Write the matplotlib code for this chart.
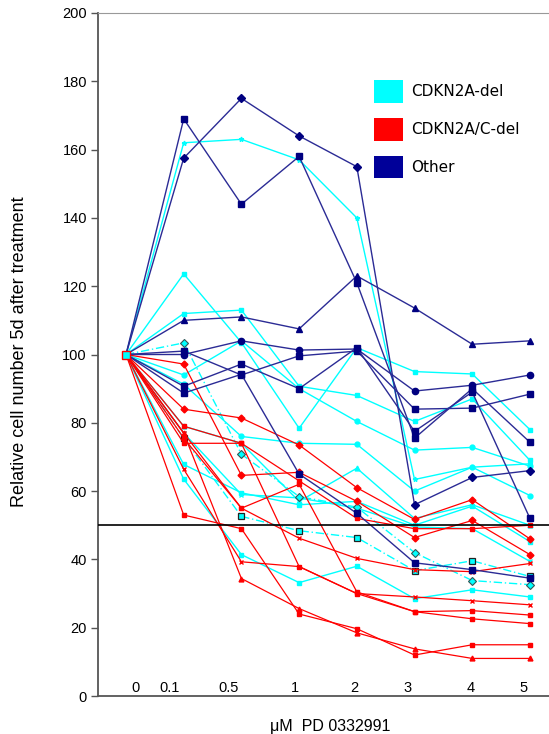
import matplotlib
matplotlib.use("Agg")
import matplotlib.pyplot as plt
from matplotlib.patches import Patch

# dose steps (plotted at equal spacing)
doses = ["0", "0.1", "0.5", "1", "2", "3", "4", "5"]
# where the tick labels sit (in dose-step units, the original labels are off-centre)
label_pos = [0.17, 0.76, 1.78, 2.93, 3.95, 4.87, 5.98, 6.88]

# CDKN2A-del (cyan)
cyan_a = [100, 162, 163, 157, 140, 63.4, 67, 68]
cyan_b = [100, 123.6, 103.5, 78.4, 102, 95, 94.3, 78]
cyan_c = [100, 112, 113, 90.7, 88, 80.4, 87, 69]
cyan_d = [100, 94, 104, 90, 80.4, 72, 72.8, 67.3]
cyan_e = [100, 91.3, 76, 74, 73.7, 60, 67, 58.7]
cyan_f = [100, 79, 74, 57, 66.7, 52, 56, 50]
cyan_g = [100, 67.8, 59.5, 56, 57, 50, 55.6, 45.2]
cyan_h = [100, 63.5, 41.4, 33.2, 38, 28.5, 31.1, 29]
cyan_i = [100, 77, 59, 58, 55, 49.5, 49, 39.4]
cyan_dd1 = [100, 103.4, 70.8, 58.4, 55.3, 42, 33.8, 32.6]
cyan_dd2 = [100, 75.5, 52.6, 48.4, 46.4, 36.7, 39.6, 35]

# CDKN2A/C-del (red)
red_a = [100, 84, 81.4, 73.5, 61, 51.7, 57.5, 46]
red_b = [100, 97.2, 64.6, 65.5, 57, 46.4, 51.4, 41.4]
red_c = [100, 74, 74, 63, 52, 49, 49, 50]
red_d = [100, 77, 55, 46.2, 40.3, 37, 36.4, 38.8]
red_e = [100, 66.4, 39.3, 37.9, 30, 29, 27.9, 26.7]
red_f = [100, 53, 49, 24, 19.7, 12, 15, 15]
red_g = [100, 77, 34.4, 25.6, 18.5, 13.8, 11, 11]
red_h = [100, 75.5, 55, 62, 30.5, 24.7, 22.6, 21.2]
red_i = [100, 79, 74, 37.9, 30, 24.7, 25, 23.7]

# Other (navy)
navy_a = [100, 169, 144, 158, 121, 75.5, 90, 74.3]
navy_b = [100, 157.5, 175, 164, 155, 56, 64, 66]
navy_c = [100, 110, 111, 107.5, 123, 113.6, 103, 104]
navy_d = [100, 100, 104, 101.3, 101.6, 89.3, 91, 94]
navy_e = [100, 101, 94, 99.6, 101, 84, 84.3, 88.4]
navy_f = [100, 90.7, 97.2, 90, 102, 77.5, 89, 52]
navy_g = [100, 88.7, 94.2, 65, 53.5, 39, 37, 34.5]

CYAN = "#00FFFF"
RED = "#FF0000"
NAVY = "#2b2b95"

fig = plt.figure(figsize=(5.49, 7.34), dpi=100)
ax = fig.add_axes([98 / 549, 1 - 696 / 734, 1 - 98 / 549, (696 - 13) / 734])
x = list(range(len(doses)))

cyan_series = [(cyan_a, "*"), (cyan_b, "s"), (cyan_c, "s"), (cyan_d, "o"),
               (cyan_e, "o"), (cyan_f, "^"), (cyan_g, "s"), (cyan_h, "s"),
               (cyan_i, "x")]
for ys, m in cyan_series:
    ax.plot(x, ys, color=CYAN, lw=1.0, marker=m, ms=3.5, mew=1, zorder=2)

# the two dash-dot cyan series with dark-edged markers
ax.plot(x, cyan_dd1, color=CYAN, lw=1.0, ls=(0, (6, 2, 1, 2)), marker="D",
        ms=4, mfc=CYAN, mec="#335555", mew=0.8, zorder=2)
ax.plot(x, cyan_dd2, color=CYAN, lw=1.0, ls=(0, (6, 2, 1, 2)), marker="s",
        ms=4.5, mfc=CYAN, mec="#222222", mew=0.9, zorder=2)

red_series = [(red_a, "D"), (red_b, "D"), (red_c, "s"), (red_d, "x"),
              (red_e, "x"), (red_f, "s"), (red_g, "^"), (red_h, "s"),
              (red_i, "s")]
for ys, m in red_series:
    ax.plot(x, ys, color=RED, lw=0.9, marker=m, ms=3.5, mew=1, zorder=3)

navy_series = [(navy_a, "s"), (navy_b, "D"), (navy_c, "^"), (navy_d, "o"),
               (navy_e, "s"), (navy_f, "s"), (navy_g, "s")]
for ys, m in navy_series:
    ax.plot(x, ys, color=NAVY, lw=1.0, marker=m, ms=4.5, mfc="#000080",
            mec="#000080", zorder=4)

# start point marker
ax.plot([0], [100], marker="s", ms=6, mfc=CYAN, mec=RED, mew=1, zorder=5)

# 50 % line
ax.axhline(50, color="black", lw=1.2, zorder=6)

ax.set_xlim(-0.485, 7.33)
ax.set_ylim(0, 200)
ax.set_yticks(range(0, 201, 20))
ax.set_xticks(label_pos)
ax.set_xticklabels(doses)
ax.tick_params(axis="x", length=0, pad=-11, labelsize=10.5)
ax.tick_params(axis="y", length=5, width=1, color="#555555", labelsize=10.5, pad=3)
for lab in ax.get_xticklabels() + ax.get_yticklabels():
    lab.set_fontfamily("Liberation Sans")
ax.spines["right"].set_visible(False)
ax.spines["top"].set_color("#999999")
ax.spines["left"].set_color("#555555")
ax.spines["bottom"].set_color("#555555")
ax.spines["left"].set_linewidth(1.3)
ax.spines["bottom"].set_linewidth(1.3)

fig.text(20 / 549, 1 - 352 / 734, "Relative cell number 5d after treatment",
         rotation=90, ha="center", va="center", fontsize=13,
         family="Liberation Sans")
fig.text(330 / 549, 1 - 727 / 734, "\u03bcM  PD 0332991", ha="center",
         va="center", fontsize=11.5, family="Liberation Sans")

handles = [Patch(facecolor=CYAN, edgecolor="none"),
           Patch(facecolor=RED, edgecolor="none"),
           Patch(facecolor="#000099", edgecolor="none")]
fig.legend(handles, ["CDKN2A-del", "CDKN2A/C-del", "Other"],
           loc="upper left", bbox_to_anchor=(374 / 549, 1 - 80 / 734),
           frameon=False, fontsize=11, handlelength=1.9, handleheight=1.9,
           labelspacing=1.0, handletextpad=0.55, borderpad=0, borderaxespad=0)

fig.savefig("out.png", dpi=100)
